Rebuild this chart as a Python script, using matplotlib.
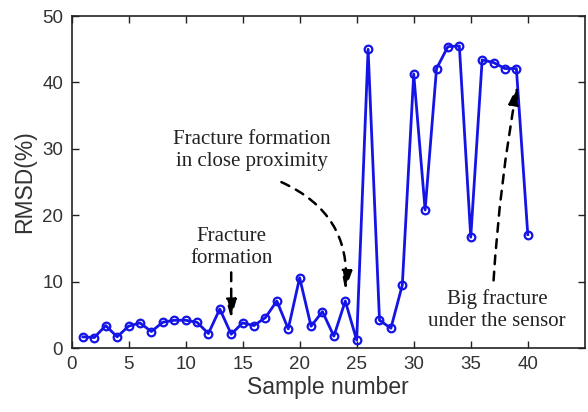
import matplotlib
matplotlib.use("Agg")
import matplotlib.pyplot as plt

samples = list(range(1, 41))
rmsd = [1.7, 1.6, 3.4, 1.7, 3.3, 3.8, 2.5, 3.9, 4.2, 4.2,
        3.9, 2.2, 5.9, 2.1, 3.8, 3.4, 4.6, 7.1, 2.9, 10.6,
        3.3, 5.5, 1.8, 7.1, 1.2, 45.0, 4.2, 3.0, 9.5, 41.3,
        20.8, 42.1, 45.4, 45.5, 16.7, 43.4, 43.0, 42.1, 42.1, 17.1]
xticks = [0, 5, 10, 15, 20, 25, 30, 35, 40]
yticks = [0, 10, 20, 30, 40, 50]

plt.rcParams['font.family'] = ['Liberation Sans', 'DejaVu Sans']

fig = plt.figure(figsize=(5.88, 4.12), dpi=100)
ax = fig.add_axes([0.1216, 0.155, 0.873, 0.806])

ax.plot(samples, rmsd, color='#1414e6', linewidth=2.0, marker='o',
        markersize=5.5, markerfacecolor='none', markeredgewidth=1.6)

ax.set_xlim(0, 45)
ax.set_ylim(0, 50)
ax.set_xticks(xticks)
ax.set_yticks(yticks)
ax.tick_params(direction='in', top=True, right=True, labelsize=13.5,
               length=5, width=1.0, colors='#222222', labelcolor='#333333', pad=6)
for s in ax.spines.values():
    s.set_linewidth(1.2)
    s.set_color('#222222')
ax.set_xlabel('Sample number', fontsize=16.5, color='#333333', labelpad=2)
ax.set_ylabel('RMSD(%)', fontsize=16.5, color='#333333', labelpad=4)

serif = ['Liberation Serif', 'DejaVu Serif']
ax.text(15.8, 29.8, 'Fracture formation\nin close proximity', family=serif,
        fontsize=15, ha='center', va='center', color='#222222', linespacing=1.2)
ax.text(14.0, 15.2, 'Fracture\nformation', family=serif,
        fontsize=15, ha='center', va='center', color='#222222', linespacing=1.2)
ax.text(37.3, 5.7, 'Big fracture\nunder the sensor', family=serif,
        fontsize=15, ha='center', va='center', color='#222222', linespacing=1.2)

arrow_kw = dict(arrowstyle='-|>,head_length=0.8,head_width=0.22',
                linestyle=(0, (3.5, 3)), color='black',
                linewidth=1.8, mutation_scale=14, shrinkA=0, shrinkB=0)
ax.annotate('', xy=(14.0, 4.4), xytext=(14.0, 11.4),
            arrowprops=dict(**arrow_kw))
ax.annotate('', xy=(24.0, 8.7), xytext=(18.4, 25.0),
            arrowprops=dict(connectionstyle='arc3,rad=-0.35', **arrow_kw))
ax.annotate('', xy=(39.1, 39.6), xytext=(37.0, 10.2),
            arrowprops=dict(connectionstyle='arc3,rad=-0.03', **arrow_kw))

fig.savefig('out.png', dpi=100)
